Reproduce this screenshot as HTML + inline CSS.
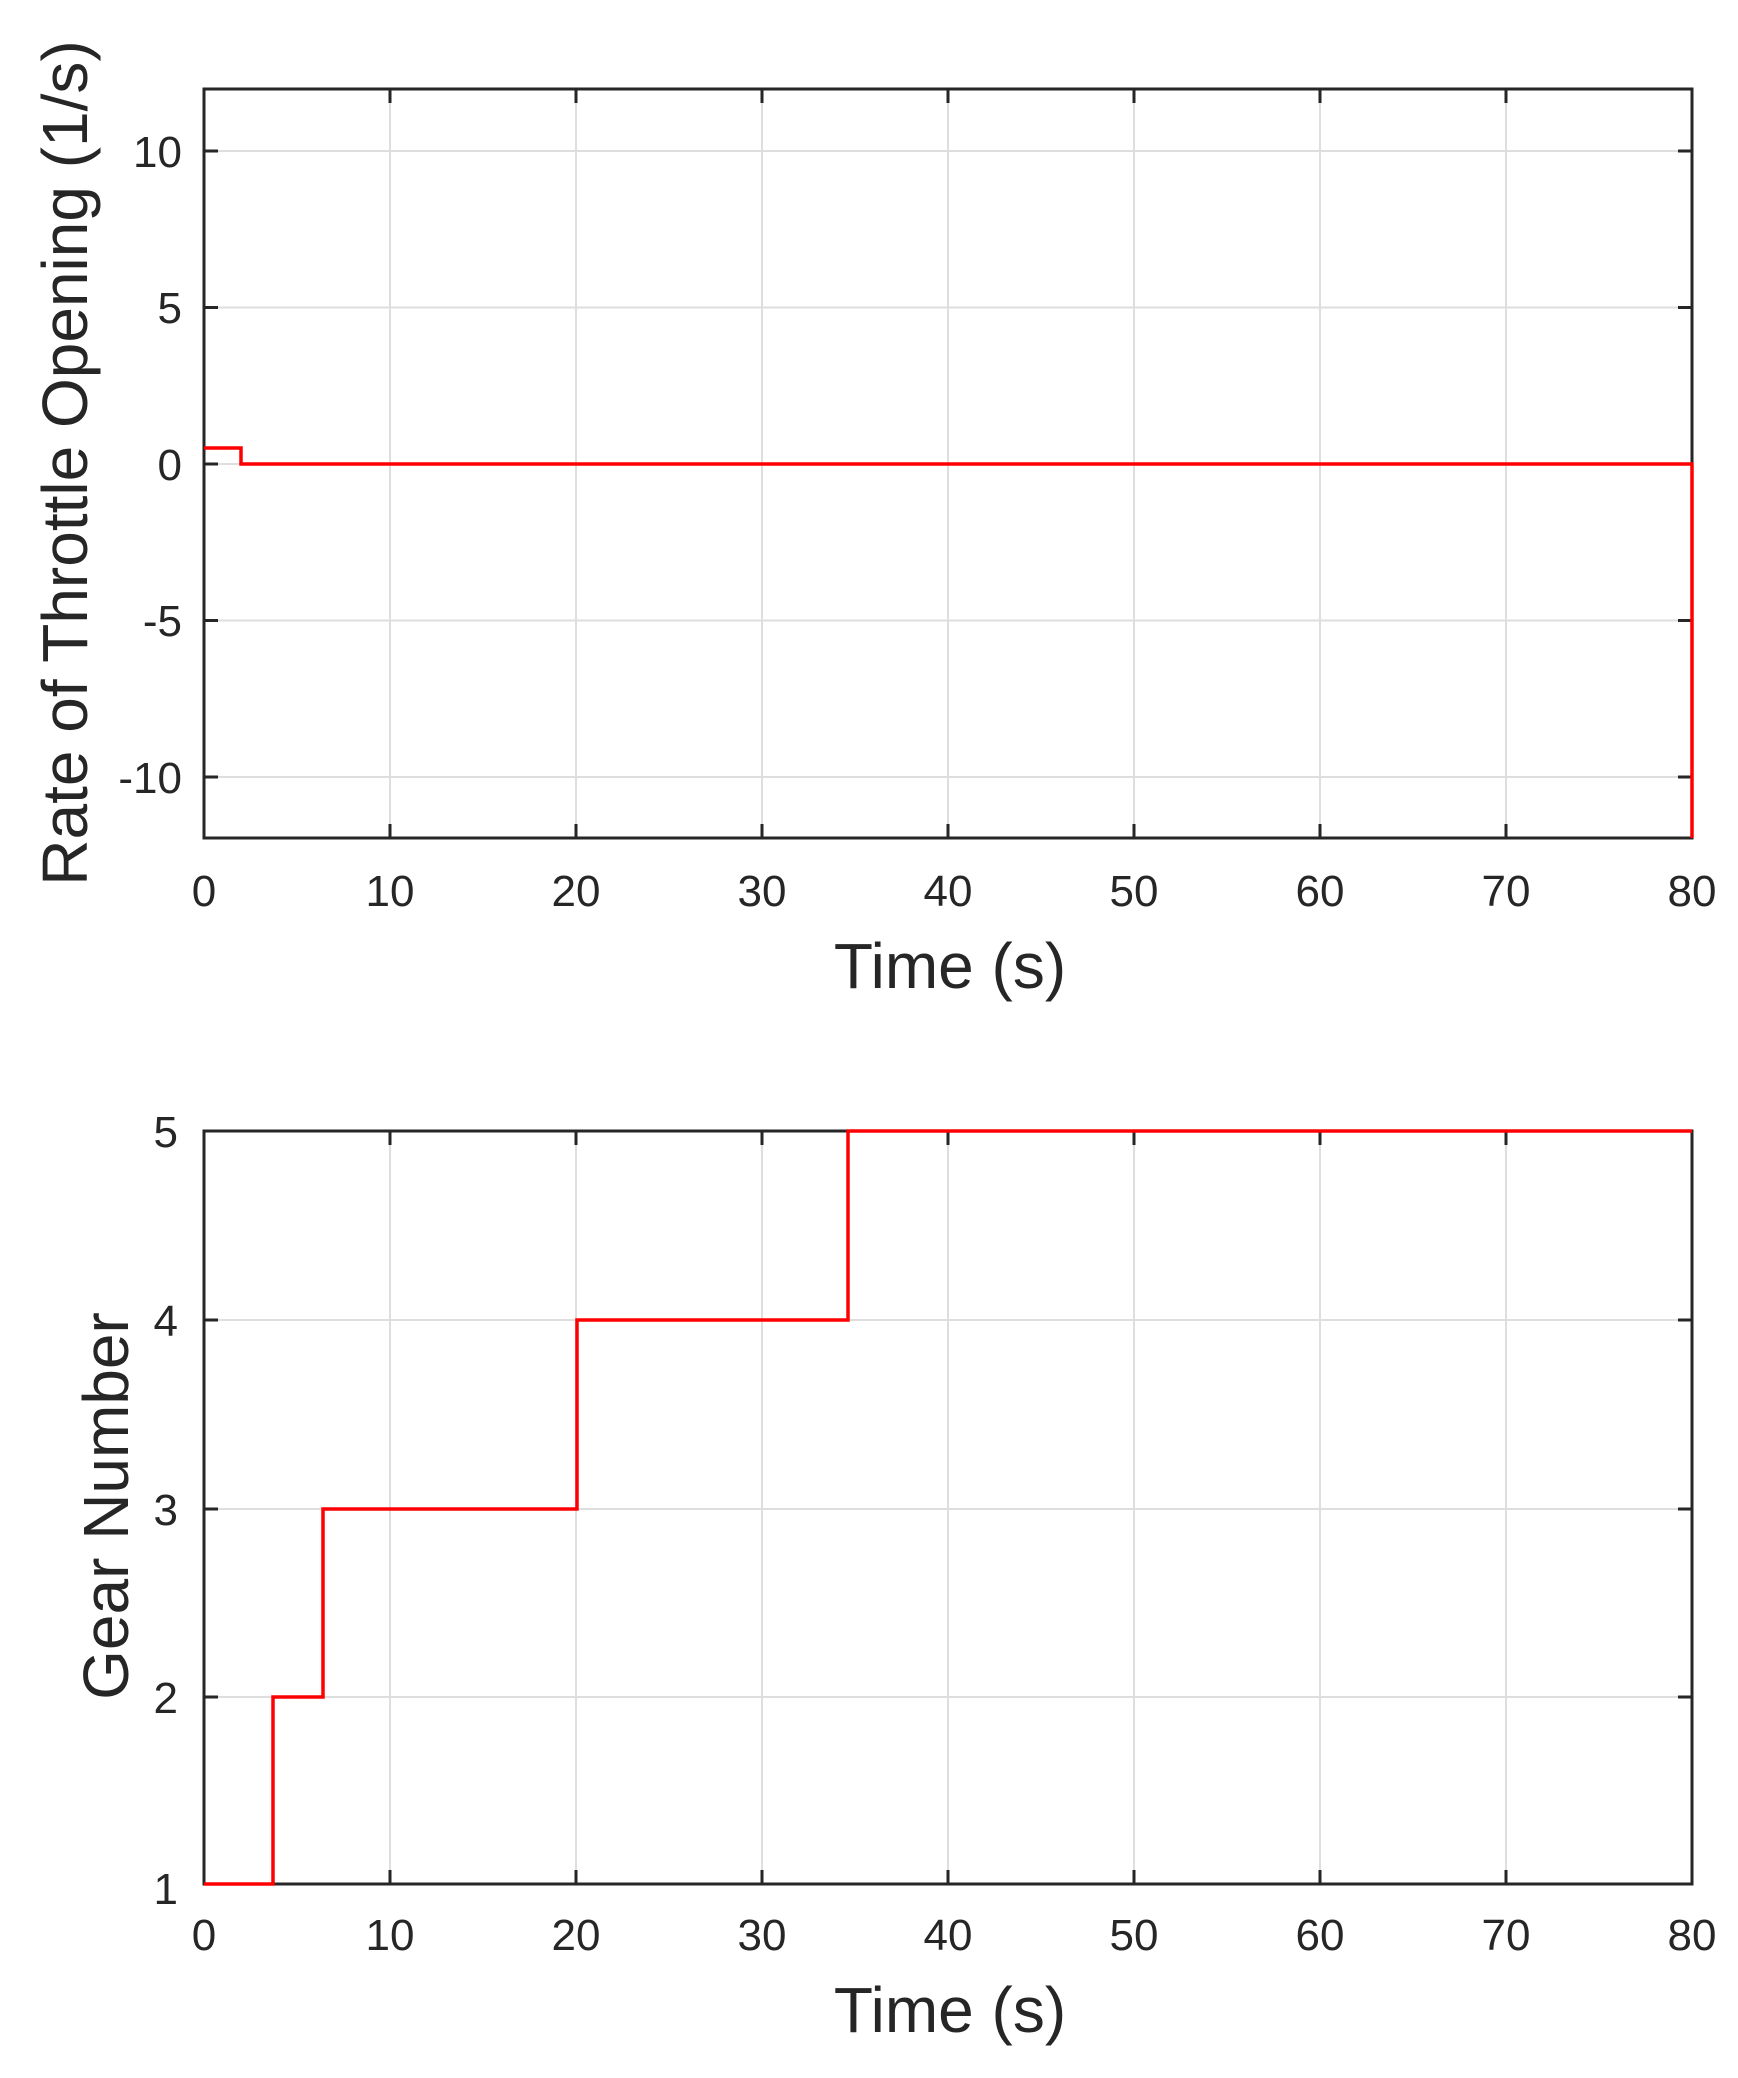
<!DOCTYPE html>
<html><head><meta charset="utf-8"><style>
html,body{margin:0;padding:0;background:#fff;}
svg{display:block;font-family:"Liberation Sans",Arial,sans-serif;}
</style></head><body>
<svg width="1738" height="2078" viewBox="0 0 1738 2078" xmlns="http://www.w3.org/2000/svg">
<rect width="1738" height="2078" fill="#fff"/>
<!-- TOP PLOT -->
<g stroke="#dedede" stroke-width="2">
<line x1="390" y1="89" x2="390" y2="838"/><line x1="576" y1="89" x2="576" y2="838"/><line x1="762" y1="89" x2="762" y2="838"/><line x1="948" y1="89" x2="948" y2="838"/><line x1="1134" y1="89" x2="1134" y2="838"/><line x1="1320" y1="89" x2="1320" y2="838"/><line x1="1506" y1="89" x2="1506" y2="838"/>
<line x1="204" y1="151" x2="1692" y2="151"/><line x1="204" y1="307.5" x2="1692" y2="307.5"/><line x1="204" y1="464" x2="1692" y2="464"/><line x1="204" y1="620.5" x2="1692" y2="620.5"/><line x1="204" y1="777" x2="1692" y2="777"/>
</g>
<g stroke="#262626" stroke-width="3">
<path d="M390 838v-14M576 838v-14M762 838v-14M948 838v-14M1134 838v-14M1320 838v-14M1506 838v-14M390 89v14M576 89v14M762 89v14M948 89v14M1134 89v14M1320 89v14M1506 89v14"/>
<path d="M204 151h14M204 307.5h14M204 464h14M204 620.5h14M204 777h14M1692 151h-14M1692 307.5h-14M1692 464h-14M1692 620.5h-14M1692 777h-14"/>
<rect x="204" y="89" width="1488" height="749" fill="none"/>
</g>
<path d="M204 448H241V464H1692V838" fill="none" stroke="#ff0000" stroke-width="3.5"/>
<g fill="#262626" font-size="44">
<g text-anchor="end"><text x="182" y="167">10</text><text x="182" y="323">5</text><text x="182" y="480">0</text><text x="182" y="636">-5</text><text x="182" y="793">-10</text></g>
<g text-anchor="middle"><text x="204" y="906">0</text><text x="390" y="906">10</text><text x="576" y="906">20</text><text x="762" y="906">30</text><text x="948" y="906">40</text><text x="1134" y="906">50</text><text x="1320" y="906">60</text><text x="1506" y="906">70</text><text x="1692" y="906">80</text></g>
</g>
<text x="950" y="988" text-anchor="middle" font-size="64" fill="#262626">Time (s)</text>
<text transform="translate(87,463) rotate(-90)" text-anchor="middle" font-size="64" fill="#262626">Rate of Throttle Opening (1/s)</text>

<!-- BOTTOM PLOT -->
<g stroke="#dedede" stroke-width="2">
<line x1="390" y1="1131" x2="390" y2="1884"/><line x1="576" y1="1131" x2="576" y2="1884"/><line x1="762" y1="1131" x2="762" y2="1884"/><line x1="948" y1="1131" x2="948" y2="1884"/><line x1="1134" y1="1131" x2="1134" y2="1884"/><line x1="1320" y1="1131" x2="1320" y2="1884"/><line x1="1506" y1="1131" x2="1506" y2="1884"/>
<line x1="204" y1="1320" x2="1692" y2="1320"/><line x1="204" y1="1509" x2="1692" y2="1509"/><line x1="204" y1="1697" x2="1692" y2="1697"/>
</g>
<g stroke="#262626" stroke-width="3">
<path d="M390 1884v-14M576 1884v-14M762 1884v-14M948 1884v-14M1134 1884v-14M1320 1884v-14M1506 1884v-14M390 1131v14M576 1131v14M762 1131v14M948 1131v14M1134 1131v14M1320 1131v14M1506 1131v14"/>
<path d="M204 1320h14M204 1509h14M204 1697h14M1692 1320h-14M1692 1509h-14M1692 1697h-14"/>
<rect x="204" y="1131" width="1488" height="753" fill="none"/>
</g>
<path d="M204 1884H273V1697H323V1509H577V1320H848V1131H1692" fill="none" stroke="#ff0000" stroke-width="3.5"/>
<g fill="#262626" font-size="44">
<g text-anchor="end"><text x="178" y="1147">5</text><text x="178" y="1336">4</text><text x="178" y="1525">3</text><text x="178" y="1713">2</text><text x="178" y="1904">1</text></g>
<g text-anchor="middle"><text x="204" y="1950">0</text><text x="390" y="1950">10</text><text x="576" y="1950">20</text><text x="762" y="1950">30</text><text x="948" y="1950">40</text><text x="1134" y="1950">50</text><text x="1320" y="1950">60</text><text x="1506" y="1950">70</text><text x="1692" y="1950">80</text></g>
</g>
<text x="950" y="2032" text-anchor="middle" font-size="64" fill="#262626">Time (s)</text>
<text transform="translate(128,1506) rotate(-90)" text-anchor="middle" font-size="64" fill="#262626">Gear Number</text>
</svg>
</body></html>
